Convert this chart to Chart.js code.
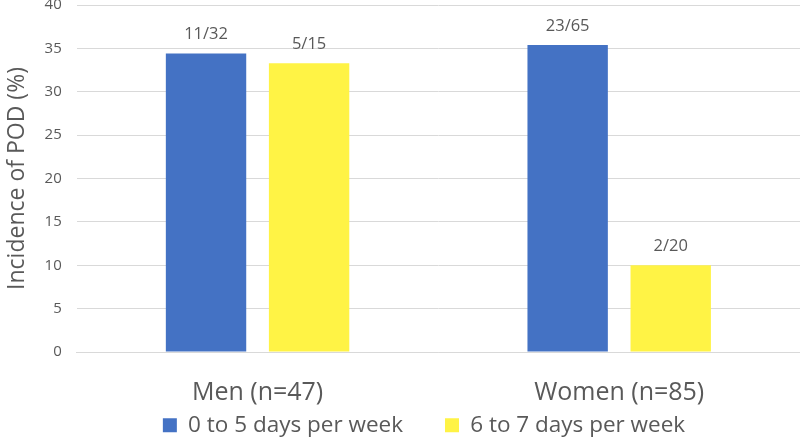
<!DOCTYPE html>
<html>
<head>
<meta charset="utf-8">
<script src="https://cdn.jsdelivr.net/npm/chart.js@4"></script>
<style>
  html, body { margin: 0; padding: 0; background: #fff; }
  #wrap { width: 800px; height: 438px; }
</style>
</head>
<body>
<div id="wrap"><canvas id="myChart"></canvas></div>
<script>
const categories = ['Men (n=47)', 'Women (n=85)'];
const seriesNames = ['0 to 5 days per week', '6 to 7 days per week'];
const lowFreq = [34.4, 35.4];
const highFreq = [33.3, 10.0];
const lowLabels = ['11/32', '23/65'];
const highLabels = ['5/15', '2/20'];

const textColor = '#595959';
const fontFamily = "'Open Sans', 'Noto Sans', sans-serif";

// draws the n/N text above each bar
const barText = {
  id: 'barText',
  afterDatasetsDraw(chart) {
    const ctx = chart.ctx;
    ctx.save();
    ctx.fillStyle = textColor;
    ctx.font = '16.5px ' + fontFamily;
    ctx.textAlign = 'center';
    ctx.textBaseline = 'middle';
    chart.data.datasets.forEach((ds, i) => {
      chart.getDatasetMeta(i).data.forEach((bar, j) => {
        ctx.fillText(ds.textLabels[j], bar.x, bar.y - 19);
      });
    });
    ctx.restore();
  }
};

// legend keeps a wide gap between items, so move its box up under the category labels
const legendShift = {
  id: 'legendShift',
  afterLayout(chart) {
    const lg = chart.legend;
    lg.top = chart.height - 66;
    lg.bottom = chart.height;
    lg.height = lg.bottom - lg.top;
    lg.left += 22;
    lg.right += 22;
  }
};

new Chart(document.getElementById('myChart'), {
  type: 'bar',
  data: {
    labels: categories,
    datasets: [{
      label: seriesNames[0],
      data: lowFreq,
      textLabels: lowLabels,
      backgroundColor: '#4472c4'
    }, {
      label: seriesNames[1],
      data: highFreq,
      textLabels: highLabels,
      backgroundColor: '#fff345'
    }]
  },
  options: {
    responsive: true,
    maintainAspectRatio: false,
    animation: false,
    layout: { padding: { top: 0, right: 0, left: 4, bottom: -21 } },
    datasets: {
      bar: { categoryPercentage: 0.57, barPercentage: 0.78 }
    },
    plugins: {
      legend: {
        position: 'bottom',
        maxHeight: 33,
        labels: {
          color: textColor,
          font: { family: fontFamily, size: 22.5 },
          boxWidth: 14,
          boxHeight: 14,
          padding: 42
        }
      },
      tooltip: { enabled: false }
    },
    scales: {
      x: {
        grid: { display: false },
        border: { color: '#d9d9d9' },
        ticks: {
          color: textColor,
          font: { family: fontFamily, size: 25 },
          padding: 18
        }
      },
      y: {
        min: 0,
        max: 40,
        ticks: {
          stepSize: 5,
          color: textColor,
          font: { family: fontFamily, size: 15, lineHeight: 0.67 },
          padding: 0
        },
        grid: { color: '#d9d9d9', tickLength: 15, tickColor: 'rgba(0,0,0,0)' },
        border: { display: false },
        title: {
          display: true,
          text: 'Incidence of POD (%)',
          color: textColor,
          font: { family: fontFamily, size: 23 },
          padding: { top: 0, bottom: 13 }
        }
      }
    }
  },
  plugins: [barText, legendShift]
});
</script>
</body>
</html>
